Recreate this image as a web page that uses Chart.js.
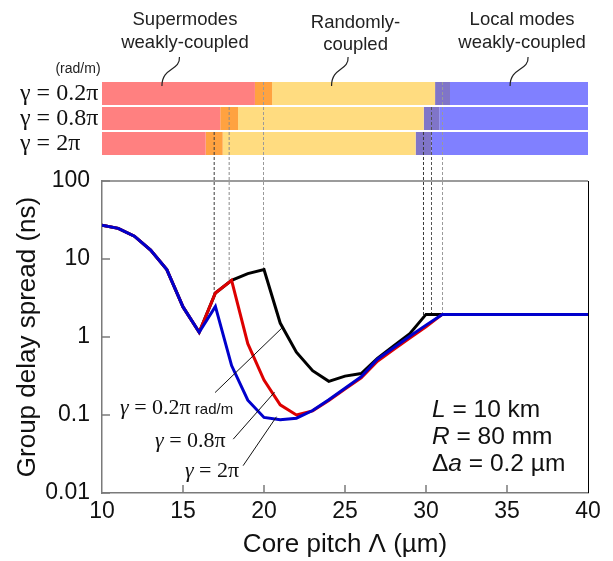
<!DOCTYPE html>
<html>
<head>
<meta charset="utf-8">
<script src="https://cdn.jsdelivr.net/npm/chart.js@4.4.1/dist/chart.umd.min.js"></script>
<style>
  html, body { margin: 0; padding: 0; background: #fff; }
  #wrap { position: relative; width: 613px; height: 561px; }
  #wrap canvas { position: absolute; left: 0; top: 0; }
</style>
</head>
<body>
<div id="wrap">
  <canvas id="bands" width="613" height="561"></canvas>
  <canvas id="delay" width="613" height="561"></canvas>
</div>
<script>
// core pitch (um) at which the group delay spread was sampled
const pitch = [10, 11, 12, 13, 14, 15, 16, 17, 18, 19, 20, 21, 22, 23, 24, 25, 26, 27, 28, 29, 30, 31, 40];
// group delay spread (ns) for each twist rate
const spread02 = [27.2, 24.7, 19.6, 13, 7.3, 2.43, 1.15, 3.66, 5.33, 6.5, 7.3, 1.51, 0.64, 0.37, 0.27, 0.315, 0.34, 0.53, 0.77, 1.1, 1.95, 1.95, 1.95];
const spread08 = [27.2, 24.7, 19.6, 13, 7.3, 2.43, 1.15, 3.66, 5.33, 0.82, 0.28, 0.135, 0.1, 0.113, 0.153, 0.215, 0.3, 0.49, 0.69, 0.97, 1.35, 1.95, 1.95];
const spread2 = [27.2, 24.7, 19.6, 13, 7.3, 2.43, 1.15, 2.47, 0.43, 0.155, 0.093, 0.087, 0.091, 0.114, 0.157, 0.22, 0.31, 0.52, 0.73, 1.02, 1.42, 1.95, 1.95];
const yTicks = [0.01, 0.1, 1, 10, 100];

// coupling regimes along the pitch axis, one entry per twist rate
const gammaRows = ["γ = 0.2π", "γ = 0.8π", "γ = 2π"];
const superEnd = [19.44, 17.3, 16.4];
const superTransEnd = [20.5, 18.4, 17.45];
const randomEnd = [30.56, 29.86, 29.36];
const localTransEnd = [31.48, 30.82, 30.33];

const regimeNames = [["Supermodes", "weakly-coupled"], ["Randomly-", "coupled"], ["Local modes", "weakly-coupled"]];
const regimeAt = [15.12, 25.65, 35.93];
const regimeTextY = [20, 22.7, 20];
const curlFrom = [14.78, 25.19, 36.3];
const curlTo = [13.7, 24.17, 35.19];

const SANS = "'Liberation Sans', Arial, sans-serif";
const SERIF = "'Liberation Serif', 'Times New Roman', serif";
const AXIS_GREY = "#7a7a7a";

const bandTexts = {
  id: "bandTexts",
  afterDraw(chart) {
    const ctx = chart.ctx;
    const x = chart.scales.x;
    const top = chart.chartArea.top;
    ctx.save();
    ctx.fillStyle = "#222";
    ctx.textAlign = "center";
    ctx.textBaseline = "middle";
    ctx.font = "18.5px " + SANS;
    regimeNames.forEach((lines, i) => {
      const cx = x.getPixelForValue(regimeAt[i]);
      lines.forEach((t, j) => ctx.fillText(t, cx, regimeTextY[i] + j * 22.5));
      // curly leader down to the first row
      const x0 = x.getPixelForValue(curlFrom[i]);
      const x1 = x.getPixelForValue(curlTo[i]);
      ctx.beginPath();
      ctx.strokeStyle = "#222";
      ctx.lineWidth = 1.2;
      ctx.moveTo(x0, top - 24);
      ctx.bezierCurveTo(x0 + 1, top - 10, x1, top - 14, x1, top + 5);
      ctx.stroke();
    });
    ctx.font = "14px " + SANS;
    ctx.fillText("(rad/m)", 78, top - 12);
    ctx.restore();
  }
};

const bandColors = ["#ff8080", "#ffa240", "#ffdc80", "#8075c8", "#8080ff"];
const bandEdges = [
  gammaRows.map(() => 10), superEnd, superTransEnd, randomEnd, localTransEnd, gammaRows.map(() => 40)
];

const bandChart = new Chart(document.getElementById("bands"), {
  type: "bar",
  data: {
    labels: gammaRows,
    datasets: bandColors.map((c, k) => ({
      data: gammaRows.map((_, i) => [bandEdges[k][i], bandEdges[k + 1][i]]),
      backgroundColor: c,
      borderWidth: 0,
      grouped: false,
      barPercentage: 0.92,
      categoryPercentage: 1
    }))
  },
  options: {
    indexAxis: "y",
    responsive: false,
    animation: false,
    layout: { padding: { left: 20, right: 25, top: 81, bottom: 405 } },
    plugins: { legend: { display: false }, tooltip: { enabled: false } },
    scales: {
      x: { type: "linear", min: 10, max: 40, display: false },
      y: {
        grid: { display: false },
        border: { display: false },
        ticks: { autoSkip: false, crossAlign: "far", padding: 0, color: "#111", font: { family: SERIF, size: 24 } },
        afterFit: (s) => { s.width = 82; }
      }
    }
  },
  plugins: [bandTexts]
});

function logLerp(xs, ys, v) {
  for (let i = 0; i < xs.length - 1; i++) {
    if (v >= xs[i] && v <= xs[i + 1]) {
      const t = (v - xs[i]) / (xs[i + 1] - xs[i]);
      return Math.pow(10, Math.log10(ys[i]) * (1 - t) + Math.log10(ys[i + 1]) * t);
    }
  }
  return ys[ys.length - 1];
}

const dashColors = ["#9a9a9a", "#8a8a8a", "#3a3a3a"];
const dashRight = ["#9a9a9a", "#555", "#3a3a3a"];

const guideLines = {
  id: "guideLines",
  beforeDatasetsDraw(chart) {
    const ctx = chart.ctx;
    const x = chart.scales.x, y = chart.scales.y;
    const by = bandChart.scales.y;
    const half = (by.getPixelForValue(1) - by.getPixelForValue(0)) * 0.92 / 2;
    ctx.save();
    ctx.lineWidth = 1;
    ctx.setLineDash([3, 2]);
    gammaRows.forEach((_, i) => {
      const rowTop = by.getPixelForValue(i) - half;
      const left = (superEnd[i] + superTransEnd[i]) / 2;
      const right = (randomEnd[i] + localTransEnd[i]) / 2;
      [[left, dashColors[i]], [right, dashRight[i]]].forEach(([p, col]) => {
        const px = x.getPixelForValue(p);
        ctx.strokeStyle = col;
        ctx.beginPath();
        ctx.moveTo(px, rowTop);
        ctx.lineTo(px, y.getPixelForValue(logLerp(pitch, spread02, p)));
        ctx.stroke();
      });
    });
    ctx.restore();
  }
};

// curve labels in the plot, and their leader lines (pitch, spread)
const curveLabels = [
  { text: "γ = 0.2π", unit: " rad/m", at: [11.11, 0.104], from: [16.98, 0.194], to: [21.1, 1.3] },
  { text: "γ = 0.8π", unit: "", at: [13.27, 0.0385], from: [18.1, 0.049], to: [20.65, 0.196] },
  { text: "γ = 2π", unit: "", at: [15.12, 0.0161], from: [18.71, 0.0224], to: [20.77, 0.095] }
];
const params = [["L", " = 10 km"], ["R", " = 80 mm"], ["Δ", "a", " = 0.2 µm"]];
const paramAt = [30.37, 0.0933];

const annotations = {
  id: "annotations",
  afterDraw(chart) {
    const ctx = chart.ctx;
    const x = chart.scales.x, y = chart.scales.y;
    const a = chart.chartArea;
    ctx.save();
    // frame: grey top, black right
    ctx.lineWidth = 1.5;
    ctx.strokeStyle = AXIS_GREY;
    ctx.beginPath();
    ctx.moveTo(a.left, a.top);
    ctx.lineTo(a.right, a.top);
    ctx.stroke();
    ctx.lineWidth = 1;
    ctx.strokeStyle = "#000";
    ctx.beginPath();
    ctx.moveTo(a.right + 0.5, a.top);
    ctx.lineTo(a.right + 0.5, a.bottom);
    ctx.stroke();
    // inward tick marks
    ctx.lineWidth = 1.5;
    ctx.strokeStyle = AXIS_GREY;
    yTicks.forEach((v) => {
      const py = y.getPixelForValue(v);
      ctx.beginPath();
      ctx.moveTo(a.left, py);
      ctx.lineTo(a.left + 8, py);
      ctx.stroke();
    });
    for (let v = 15; v < 40; v += 5) {
      const px = x.getPixelForValue(v);
      ctx.beginPath();
      ctx.moveTo(px, a.bottom);
      ctx.lineTo(px, a.bottom - 8);
      ctx.stroke();
    }
    // curve labels
    ctx.fillStyle = "#111";
    ctx.strokeStyle = "#111";
    ctx.lineWidth = 1;
    ctx.textBaseline = "alphabetic";
    ctx.textAlign = "left";
    curveLabels.forEach((c) => {
      ctx.beginPath();
      ctx.moveTo(x.getPixelForValue(c.from[0]), y.getPixelForValue(c.from[1]));
      ctx.lineTo(x.getPixelForValue(c.to[0]), y.getPixelForValue(c.to[1]));
      ctx.stroke();
      let px = x.getPixelForValue(c.at[0]);
      const py = y.getPixelForValue(c.at[1]);
      ctx.font = "italic 22px " + SERIF;
      ctx.fillText("γ", px, py);
      px += ctx.measureText("γ").width;
      ctx.font = "22px " + SERIF;
      const rest = c.text.slice(1);
      ctx.fillText(rest, px, py);
      px += ctx.measureText(rest).width;
      if (c.unit) {
        ctx.font = "15px " + SANS;
        ctx.fillText(c.unit, px, py);
      }
    });
    // simulation parameters
    const px0 = x.getPixelForValue(paramAt[0]);
    const py0 = y.getPixelForValue(paramAt[1]);
    params.forEach((parts, j) => {
      let px = px0;
      parts.forEach((t, k) => {
        const italic = (parts.length === 2 && k === 0) || (parts.length === 3 && k === 1);
        ctx.font = (italic ? "italic " : "") + "24.5px " + SANS;
        ctx.fillText(t, px, py0 + j * 27);
        px += ctx.measureText(t).width;
      });
    });
    ctx.restore();
  }
};

const line = (values, color) => ({
  data: pitch.map((p, i) => ({ x: p, y: values[i] })),
  borderColor: color,
  borderWidth: 3,
  pointRadius: 0,
  tension: 0,
  fill: false
});

new Chart(document.getElementById("delay"), {
  type: "line",
  data: {
    datasets: [line(spread2, "#0000cc"), line(spread08, "#dd0000"), line(spread02, "#000000")]
  },
  options: {
    responsive: false,
    animation: false,
    layout: { padding: { top: 181, right: 25, left: 0, bottom: 0 } },
    plugins: { legend: { display: false }, tooltip: { enabled: false } },
    scales: {
      x: {
        type: "linear",
        min: 10,
        max: 40,
        grid: { drawOnChartArea: false, drawTicks: false },
        border: { color: AXIS_GREY, width: 1.5 },
        ticks: { stepSize: 5, padding: 5, color: "#111", font: { family: SANS, size: 23 } },
        title: { display: true, text: "Core pitch Λ (µm)", color: "#111", font: { family: SANS, size: 26 }, padding: { top: 0, bottom: 1 } },
        afterFit: (s) => { s.height = 68; }
      },
      y: {
        type: "logarithmic",
        min: 0.01,
        max: 100,
        grid: { drawOnChartArea: false, drawTicks: false },
        border: { color: AXIS_GREY, width: 1.5 },
        afterBuildTicks: (s) => { s.ticks = yTicks.map((v) => ({ value: v })); },
        ticks: { padding: 12, color: "#111", font: { family: SANS, size: 23 }, callback: (v) => String(v) },
        title: { display: true, text: "Group delay spread (ns)", color: "#111", font: { family: SANS, size: 26 }, padding: { top: 12 } },
        afterFit: (s) => { s.width = 102; }
      }
    }
  },
  plugins: [guideLines, annotations]
});
</script>
</body>
</html>
